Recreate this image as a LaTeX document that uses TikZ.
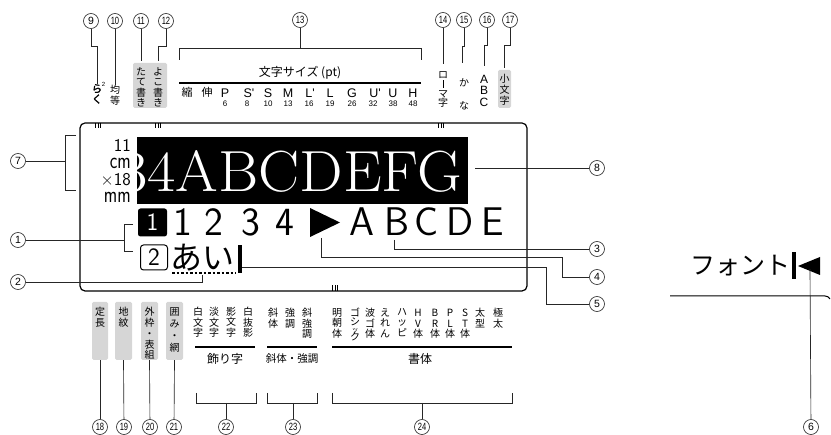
\documentclass[tikz,border=0pt]{standalone}
\usepackage{fontspec}
\usepackage{graphicx}
\newfontfamily\jp{Noto Sans CJK JP}
\newfontfamily\jpb[FakeBold=2]{Noto Sans CJK JP}
\newfontfamily\hv{Liberation Sans}
\newcommand\nn[1]{\scalebox{0.72}[1]{#1}}
\newcommand\fsz[1]{\fontsize{#1}{#1}\selectfont}
\tikzset{
  lead/.style={line width=0.65pt, draw=black!85},
  cn/.style={circle, draw=black!85, line width=0.65pt, minimum size=15pt, inner sep=0pt, font=\hv\fsz{10.5}},
  jt/.style={font=\jp\fontsize{10}{10.5}\selectfont, align=center, inner sep=0pt, anchor=north},
  gbox/.style={fill=black!16, rounded corners=1.5pt, inner sep=0pt},
  big/.style={font=\sffamily\fsz{40}, inner sep=0pt, anchor=base},
  uline/.style={line width=1.7pt},
  tick/.style={line width=0.6pt},
}
\begin{document}
\begin{tikzpicture}[x=1pt,y=-1pt]
\useasboundingbox (0,0) rectangle (831,435);
% ---------------- display
\node[draw, line width=1.2pt, rounded corners=5pt, minimum width=447pt, minimum height=168pt, inner sep=0pt] (disp) at (303.5,207) {};
\foreach \x in {98,158,441}{\foreach \d in {-2.4,0,2.4}{\draw[tick] (\x+\d,123) -- (\x+\d,128.5);}}
\foreach \d in {-2.4,0,2.4}{\draw[tick] (335+\d,291) -- (335+\d,285.5);}
% banner
\node[fill=black, minimum width=331pt, minimum height=67pt, inner sep=0pt] (ban) at (302.5,170.5) {};
\begin{scope}
\clip (137,137) rectangle (468,204);
\node[anchor=base east, inner sep=0pt, text=white, font=\rmfamily\fsz{58}] (bantext) at (462,192) {\scalebox{1.06}[1]{34ABCDEFG}};
\end{scope}
% size info
\node[font=\sffamily\fontsize{18}{16.8}\selectfont, align=right, anchor=north east, inner sep=0pt] (sinfo) at (131,139.5)
  {11\\\scalebox{1}[1.3]{cm}\\×18\\\scalebox{1}[1.3]{mm}};
% line 2
\node[fill=black, rounded corners=2.5pt, minimum width=29pt, minimum height=28pt, inner sep=0pt, text=white, font=\sffamily\fsz{25}] (k1) at (152.5,222.5) {1};
\foreach \x/\c [count=\i] in {183/1,214/2,251/3,285/4,362/A,397/B,427/C,460/D,493/E}
  {\node[big] (d\i) at (\x,235.5) {\c};}
\fill (310,208) -- (340,222.5) -- (310,237) -- cycle;
\coordinate (tri4) at (321,238);
\coordinate (c3) at (394,240);
% line 3
\node[draw, line width=1pt, rounded corners=3pt, minimum width=27pt, minimum height=25pt, inner sep=0pt, font=\sffamily\fsz{25}] (k2) at (154,257.5) {2};
\node[font=\jp\fsz{32}, anchor=west, inner sep=0pt] (ai) at (170,258) {あい};
\fill (238,245) rectangle (242,273);
\coordinate (cur) at (242,267);
\draw[line width=1.1pt, dash pattern=on 2.5pt off 2pt] (172,273) -- (236,273);
\coordinate (u2) at (202,275);
% ---------------- left labels
\node[cn] (n7) at (18,161) {7};
\node[cn] (n1) at (18,240) {1};
\node[cn] (n2) at (18,282) {2};
\draw[lead] (n7) -- (65,161);
\draw[lead] (76,135) -- (65,135) -- (65,190) -- (76,190);
\draw[lead] (n1) -- (124,240);
\draw[lead] (133,224) -- (124,224) -- (124,251) -- (133,251);
\draw[lead] (n2) -| (u2);
% ---------------- right labels
\node[cn] (n8) at (597,168) {8};
\node[cn] (n3) at (597,249) {3};
\node[cn] (n4) at (597,277) {4};
\node[cn] (n5) at (597,304) {5};
\coordinate (e8) at (475,168);
\draw[lead] (e8) -- (n8);
\draw[lead] (c3) |- (n3);
\draw[lead] (tri4) -- (321,257) -- (562,257) |- (n4);
\draw[lead] (cur) -- (546,267) |- (n5);
% ---------------- top labels
\node[cn] (n9) at (91,21) {9};
\node[cn] (n10) at (115,21) {\nn{10}};
\node[cn] (n11) at (141,21) {\nn{11}};
\node[cn] (n12) at (166,21) {\nn{12}};
\node[cn] (n13) at (300,20) {\nn{13}};
\node[cn] (n14) at (443,20) {\nn{14}};
\node[cn] (n15) at (464,20) {\nn{15}};
\node[cn] (n16) at (487,20) {\nn{16}};
\node[cn] (n17) at (510,20) {\nn{17}};
% 9
\node[font=\jpb\fontsize{10.5}{10.5}\selectfont, align=center, inner sep=0pt, anchor=north] (t9) at (97,84) {ら\\く};
\node[font=\hv\fsz{6}, inner sep=0pt] (t9s) at (103.5,84) {2};
\draw[lead] (n9) -- (91,46) -| (t9.north);
% 10
\node[jt] (t10) at (115,85) {均\\等};
\draw[lead] (n10) -- (t10.north);
% 11 12
\node[gbox, minimum width=34pt, minimum height=45pt] (g1112) at (150,85.5) {};
\node[jt] (t11) at (141,67) {た\\て\\書\\き};
\node[jt] (t12) at (158,67) {よ\\こ\\書\\き};
\coordinate (e11) at (141,61);
\coordinate (e12) at (158,61);
\draw[lead] (n11) -- (e11);
\draw[lead] (n12) -- (166,46) -| (e12);
% 13
\coordinate (b13) at (300,48);
\draw[lead] (n13) -- (b13);
\draw[lead] (179,60) |- (421,48) -- (421,60);
\node[font=\jp\fsz{12}, inner sep=0pt] (t13) at (300,73) {文字サイズ (pt)};
\draw[uline] (179,83) -- (421,83);
\node[font=\jp\fsz{11}, inner sep=0pt] (sz1) at (187,92.5) {縮};
\node[font=\jp\fsz{11}, inner sep=0pt] (sz2) at (207,92.5) {伸};
\foreach \x/\l [count=\i] in {225/P,249/S',268/S,288/M,310/L',330/L,352/G,375/U',393/U,413/H}
  {\node[font=\hv\fsz{12.5}, inner sep=0pt, anchor=base] (sl\i) at (\x,98) {\l};}
\foreach \x/\n [count=\i] in {225/6,247/8,268/10,288/13,309/16,330/19,352/26,373/32,393/38,413/48}
  {\node[font=\hv\fsz{8}, inner sep=0pt, anchor=base] (sn\i) at (\x,106.5) {\n};}
% 14-17
\node[font=\jp\fontsize{10}{9.6}\selectfont, align=center, inner sep=0pt, anchor=north] (t14) at (443,71) {ロ\\\rule{0.9pt}{7.5pt}\\マ\\字};
\draw[lead] (n14) -- (t14.north |- 0,64);
\node[jt] (t15a) at (464,78) {か};
\node[jt] (t15b) at (464,101) {な};
\draw[lead] (n15) -- (464,46) -| (462,63);
\node[font=\hv\fontsize{12}{11.3}\selectfont, align=center, inner sep=0pt, anchor=north] (t16) at (484,75) {A\\B\\C};
\draw[lead] (n16) -- (487,45) -| (484,66);
\node[gbox, minimum width=13pt, minimum height=38pt] (g17) at (504.5,89) {};
\node[font=\jp\fontsize{10}{11}\selectfont, align=center, inner sep=0pt, anchor=north] (t17) at (504.5,74) {小\\文\\字};
\draw[lead] (n17) -- (510,45) -| (504.5,68);
% ---------------- bottom labels
\node[cn] (n18) at (100,427) {\nn{18}};
\node[cn] (n19) at (124,427) {\nn{19}};
\node[cn] (n20) at (150,427) {\nn{20}};
\node[cn] (n21) at (174,427) {\nn{21}};
\node[cn] (n22) at (226,427) {\nn{22}};
\node[cn] (n23) at (293,427) {\nn{23}};
\node[cn] (n24) at (422,427) {\nn{24}};
\node[gbox, minimum width=16pt, minimum height=58pt] (g18) at (100,331) {};
\node[gbox, minimum width=17pt, minimum height=58pt] (g19) at (123.5,331) {};
\node[gbox, minimum width=17pt, minimum height=58pt] (g20) at (149.5,331) {};
\node[gbox, minimum width=17pt, minimum height=58pt] (g21) at (174.5,331) {};
\node[font=\jp\fontsize{10}{11}\selectfont, align=center, inner sep=0pt, anchor=north] (t18) at (100,307) {定\\長};
\node[font=\jp\fontsize{10}{11}\selectfont, align=center, inner sep=0pt, anchor=north] (t19) at (123.5,307) {地\\紋};
\node[font=\jp\fontsize{10}{10.8}\selectfont, align=center, inner sep=0pt, anchor=north] (t20) at (149.5,307) {外\\枠\\・\\表\\組};
\node[font=\jp\fontsize{10}{12}\selectfont, align=center, inner sep=0pt, anchor=north] (t21) at (174.5,307) {囲\\み\\・\\網};
\draw[lead] (g18.south) -- (n18);
\draw[lead] (g19.south) -- (n19);
\draw[lead] (g20.south) -- (n20);
\draw[lead] (g21.south) -- (n21);
% 22 decoration
\node[jt] (c22a) at (198,307) {白\\文\\字};
\node[jt] (c22b) at (214,307) {淡\\文\\字};
\node[jt] (c22c) at (231,307) {影\\文\\字};
\node[jt] (c22d) at (248,307) {白\\抜\\影};
\draw[uline] (195,347) -- (255,347);
\node[font=\jp\fsz{12}, inner sep=0pt] (h22) at (225,359) {飾り字};
\coordinate (k22) at (226,403);
\draw[lead] (196,393) |- (256,403) -- (256,393);
\draw[lead] (k22) -- (n22);
% 23 italic
\node[jt] (c23a) at (273,308) {斜\\体};
\node[jt] (c23b) at (290,308) {強\\調};
\node[jt] (c23c) at (307,308) {斜\\強\\調};
\draw[uline] (267,347) -- (317,347);
\node[font=\jp\fsz{10.5}, inner sep=0pt] (h23) at (292,359) {斜体・強調};
\coordinate (k23) at (293,403);
\draw[lead] (267,393) |- (317,403) -- (317,393);
\draw[lead] (k23) -- (n23);
% 24 typefaces
\node[jt] (c24a) at (337,308) {明\\朝\\体};
\node[font=\jp\fontsize{10}{9}\selectfont, align=center, inner sep=0pt, anchor=north] (c24b) at (355,308) {ゴ\\シ\\[-2.5pt]{\fsz{7}ッ}\\[-1pt]ク};
\node[jt] (c24c) at (370,308) {波\\ゴ\\体};
\node[jt] (c24d) at (385,308) {え\\れ\\ん};
\node[jt] (c24e) at (402,308) {ハ\\ッ\\ピ};
\node[jt] (c24f) at (418,309) {H\\V\\体};
\node[jt] (c24g) at (435,309) {B\\R\\体};
\node[jt] (c24h) at (450,309) {P\\L\\体};
\node[jt] (c24i) at (465,309) {S\\T\\体};
\node[jt] (c24j) at (480,308) {太\\型};
\node[jt] (c24k) at (498,308) {極\\太};
\draw[uline] (332,347) -- (512,347);
\node[font=\jp\fsz{12}, inner sep=0pt] (h24) at (420,359) {書体};
\coordinate (k24) at (422,403);
\draw[lead] (332,393) |- (512,403) -- (512,393);
\draw[lead] (k24) -- (n24);
% ---------------- right detail
\node[font=\jp\fsz{25}, anchor=east, inner sep=0pt] (fnt) at (791,266) {フォント};
\fill (792,252) rectangle (795.5,279);
\fill (820,257) -- (798,266) -- (820,275) -- cycle;
\coordinate (tri6) at (810,269);
\draw[line width=1pt] (670,296) -- (825,296) to[out=0,in=120] (830,299);
\node[cn] (n6) at (811,427) {6};
\draw[lead] (tri6) -- (n6);
\end{tikzpicture}
\end{document}
